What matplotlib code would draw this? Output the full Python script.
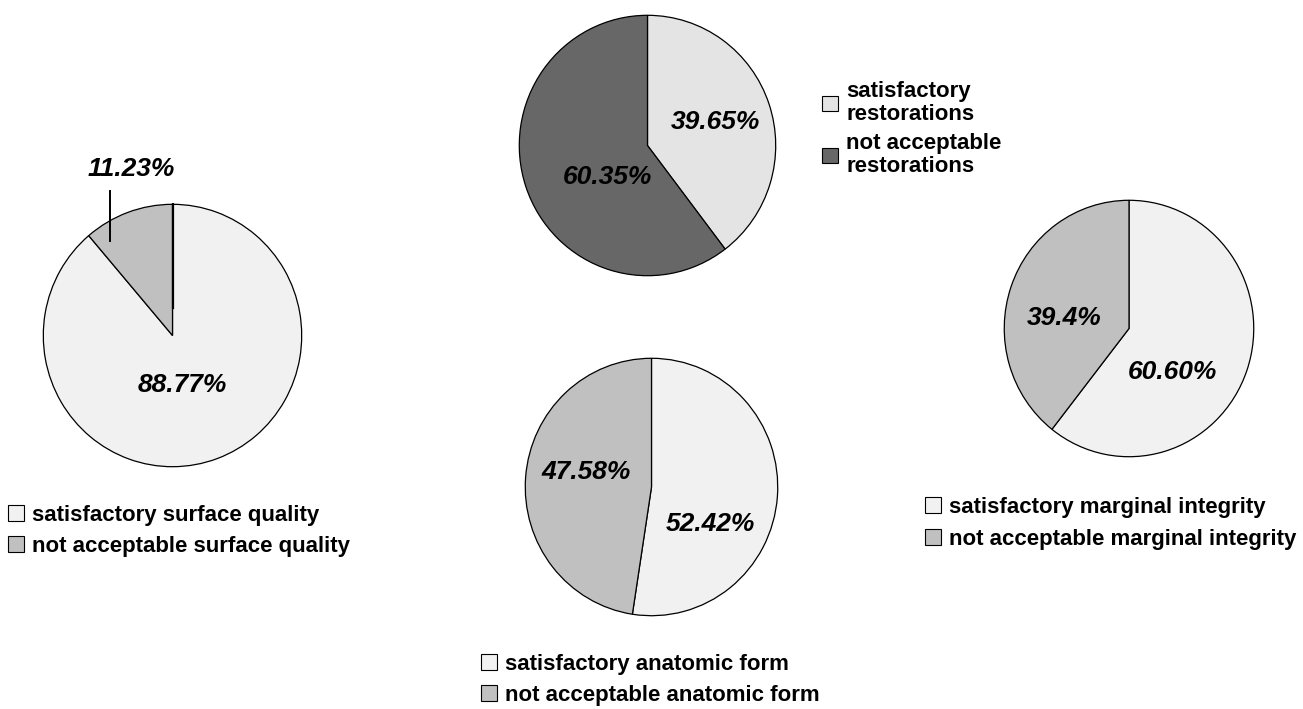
import matplotlib.pyplot as plt
from matplotlib.patches import Patch

plt.rcParams['font.family'] = ['Liberation Sans', 'DejaVu Sans']

# values (satisfactory, not acceptable)
surface_vals = [88.77, 11.23]
surface_lbls = ['88.77%', '11.23%']
surface_names = ['satisfactory surface quality', 'not acceptable surface quality']

resto_vals = [39.65, 60.35]
resto_lbls = ['39.65%', '60.35%']
resto_names = ['satisfactory\nrestorations', 'not acceptable\nrestorations']

anat_vals = [52.42, 47.58]
anat_lbls = ['52.42%', '47.58%']
anat_names = ['satisfactory anatomic form', 'not acceptable anatomic form']

marg_vals = [60.60, 39.4]
marg_lbls = ['60.60%', '39.4%']
marg_names = ['satisfactory marginal integrity', 'not acceptable marginal integrity']

W, H = 1303, 709
fig = plt.figure(figsize=(W / 100, H / 100), dpi=100)


def px_axes(x0, y0, x1, y1):
    return fig.add_axes([x0 / W, 1 - y1 / H, (x1 - x0) / W, (y1 - y0) / H])


def draw_pie(box, vals, colors, lbls, lbl_pos, names, leg_xy, spacing, linesp=1.0):
    ax = px_axes(*box)
    ax.pie(vals, colors=colors, startangle=90, counterclock=False, radius=1,
           wedgeprops=dict(edgecolor='black', linewidth=0.9))
    ax.set_aspect('auto')
    ax.set_xlim(-1.01, 1.01)
    ax.set_ylim(-1.01, 1.01)
    ax.axis('off')
    for t, (x, y) in zip(lbls, lbl_pos):
        ax.text(x, y, t, ha='center', va='center', fontsize=19,
                fontweight='bold', fontstyle='italic', clip_on=False)
    handles = [Patch(facecolor=c, edgecolor='black', linewidth=0.8) for c in colors]
    leg = fig.legend(handles, names, loc='upper left',
                     bbox_to_anchor=(leg_xy[0] / W, 1 - leg_xy[1] / H),
                     frameon=False, handlelength=0.7, handleheight=0.7,
                     handletextpad=0.4, labelspacing=spacing, borderpad=0,
                     borderaxespad=0, prop=dict(weight='bold', size=16))
    for t in leg.get_texts():
        t.set_linespacing(linesp)
    return ax


light = '#f1f1f1'
mid = '#c0c0c0'

ax1 = draw_pie((42, 203, 303, 468), surface_vals, [light, mid], surface_lbls,
               [(0.08, -0.38), (-0.32, 1.27)], surface_names, (8, 505), 0.45)
# leader line for the small slice label
ax1.plot([-0.48, -0.48], [1.10, 0.72], color='black', linewidth=1.4, clip_on=False)
ax1.plot([0, 0], [1.0, 0.21], color='black', linewidth=1.6)

draw_pie((518, 14, 777, 277), resto_vals, ['#e4e4e4', '#676767'], resto_lbls,
         [(0.53, 0.18), (-0.315, -0.24)], resto_names, (822, 81), 0.34, 1.15)

draw_pie((524, 357, 779, 617), anat_vals, [light, mid], anat_lbls,
         [(0.47, -0.29), (-0.52, 0.12)], anat_names, (481, 654), 0.45)

draw_pie((1003, 199, 1255, 458), marg_vals, [light, mid], marg_lbls,
         [(0.35, -0.34), (-0.52, 0.08)], marg_names, (925, 497), 0.48)

fig.savefig('out.png', dpi=100, facecolor='white')
